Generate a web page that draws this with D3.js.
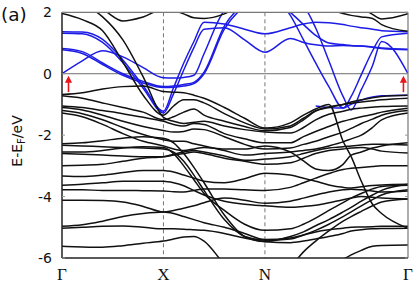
<!DOCTYPE html>
<html><head><meta charset="utf-8">
<script src="https://cdn.jsdelivr.net/npm/d3@7"></script>
<style>html,body{margin:0;padding:0;background:#fff;} svg{display:block;}</style>
</head><body>
<svg id="chart" width="415" height="283"></svg>
<script>
// k-path sample positions (Γ=0, X=1, N=2, Γ=3.41)
const kGrid = [0, 0.2, 0.4, 0.6, 0.8, 1.0, 1.1, 1.2, 1.3, 1.4, 1.6, 1.8, 2.0, 2.25, 2.38, 2.5, 2.63, 2.77, 2.85, 2.95, 3.06, 3.15, 3.41];
const kPoints = [0, 1, 2, 3.41];
const kLabels = ["Γ", "X", "N", "Γ"];
const yTicks = [2, 0, -2, -4, -6];
const arrowK = [0.064, 3.365];
const arrowE = [-0.6, -0.07];

// bands crossing E_F (blue)
const blueB1 = [1.37, 1.36, 1.12, 0.45, -0.39, -1.22, -0.45, 0.35, 1.05, 1.68, 1.62, 1.45, 1.3, 1.5, 1.62, 1.68, 1.66, 1.6, 1.55, 1.5, 1.45, 1.4, 1.37];
const blueB2 = [1.32, 1.30, 1.02, 0.36, -0.47, -1.28, -0.65, 0.12, 0.85, 1.45, 1.5, 1.1, 0.7, 1.15, 1.02, 0.94, 0.9, 0.92, 0.91, 0.9, 0.87, 0.84, 0.80];
const blueB3 = [0.82, 0.72, 0.35, 0.0, -0.25, -0.42, -0.4, -0.35, -0.28, 0.05, 1.55, 2.3, 2.6, 1.9, 1.1, 0.35, -0.42, -1.12, -0.74, -0.03, 0.74, 1.2, 1.32];
const blueB4 = [0.0, 0.42, 0.75, 0.55, 0.2, -0.13, -0.14, -0.12, -0.05, 0.65, 2.05, 2.4, 2.6, 2.4, 2.2, 1.49, 0.42, -0.74, -1.18, -0.52, 0.26, 1.05, 0.0];
const blueB5 = [0.78, 0.66, 0.3, -0.05, -0.3, -0.45, -0.44, -0.4, -0.32, 0.0, 1.45, 2.2, 2.5, 2.0, 1.6, 1.25, 1.0, 0.95, 0.92, 0.9, 0.86, 0.82, 0.78];
const blueB6 = [null, null, null, null, null, null, null, null, null, null, null, null, null, null, null, -1.05, -1.1, -1.12, -1.0, -0.86, -0.76, -0.72, -0.7];

// other bands (black)
const blackK1 = [1.96, 1.76, 1.4, 0.38, -0.7, -1.35, -1.05, -0.85, -0.85, -0.95, -1.3, -1.6, -1.8, -1.7, -1.45, -1.2, -1.08, -1.0, -0.96, -0.92, -0.88, -0.85, -0.8];
const blackK2 = [2.3, 2.2, 2.08, 1.72, 1.85, 2.1, 2.05, 1.95, 1.82, 1.8, 1.95, 2.3, 2.5, 2.6, 2.5, 2.3, 2.1, 1.96, 1.9, 1.85, 1.8, 1.6, 1.38];
const blackK3 = [1.99, 2.1, 2.4, 2.6, 2.7, 2.6, 2.55, 2.5, 2.45, 2.4, 2.4, 2.5, 2.6, 2.6, 2.55, 2.5, 2.45, 2.4, 2.3, 2.15, 1.93, 1.78, 1.95];
const blackK4 = [2.45, 2.28, 1.85, 1.1, -0.1, -1.42, -1.55, -1.62, -1.58, -1.55, -1.7, -1.82, -1.9, -1.93, -1.75, -1.5, -1.32, -1.22, -1.16, -1.12, -1.09, -1.07, -1.05];
const blackK5 = [-0.68, -0.62, -0.5, -0.42, -0.4, -0.58, -0.6, -0.62, -0.7, -0.8, -1.1, -1.45, -1.77, -1.6, -1.35, -1.15, -1.0, -2.2, -2.7, -3.5, -4.25, -4.55, -5.03];
const blackK6 = [-1.05, -1.1, -1.2, -1.3, -1.42, -1.55, -1.65, -1.7, -1.62, -1.65, -1.95, -2.12, -2.25, -2.25, -2.05, -1.88, -1.72, -1.55, -1.48, -1.4, -1.33, -1.25, -1.12];
const blackK7 = [-1.1, -1.18, -1.35, -1.55, -1.72, -1.85, -1.9, -1.88, -1.8, -1.82, -2.05, -2.3, -2.45, -2.42, -2.3, -2.2, -2.05, -1.9, -1.78, -1.62, -1.48, -1.35, -1.2];
const blackK8 = [-1.2, -1.3, -1.5, -1.75, -1.98, -2.15, -2.2, -2.2, -2.28, -2.35, -2.5, -2.65, -2.6, -2.55, -2.5, -2.45, -2.35, -2.22, -2.12, -2.0, -1.75, -1.5, -1.28];
const blackK9 = [-1.28, -1.4, -1.65, -1.95, -2.2, -2.35, -2.45, -2.5, -2.45, -2.4, -2.45, -2.45, -2.35, -2.55, -2.84, -3.1, -3.15, -2.95, -2.65, -2.55, -2.42, -2.35, -2.25];
const blackK10 = [-0.72, -0.8, -0.95, -1.1, -1.25, -1.5, -1.4, -1.25, -1.15, -1.35, -1.55, -1.72, -1.86, -1.75, -1.5, -1.22, -1.1, -1.0, -0.92, -0.85, -0.78, -0.74, -0.7];
const blackK11 = [-2.28, -2.25, -2.18, -2.1, -2.05, -2.1, -2.25, -2.6, -3.05, -3.55, -4.6, -5.3, -5.46, -5.3, -5.15, -4.95, -4.75, -4.5, -4.35, -4.15, -3.95, -3.8, -3.6];
const blackK12 = [-2.33, -2.35, -2.38, -2.4, -2.42, -2.45, -2.55, -2.85, -3.3, -3.8, -4.75, -5.3, -5.42, -5.38, -5.25, -5.1, -4.9, -4.65, -4.5, -4.3, -4.1, -3.95, -3.78];
const blackK13 = [-2.55, -2.55, -2.5, -2.42, -2.38, -2.4, -2.6, -3.0, -3.45, -3.9, -4.45, -4.9, -5.1, -5.05, -4.9, -4.7, -4.45, -4.2, -4.05, -3.9, -3.75, -3.67, -3.63];
const blackK14 = [-2.6, -2.62, -2.65, -2.68, -2.7, -2.7, -2.65, -2.6, -2.55, -2.6, -2.75, -2.85, -2.95, -2.9, -2.75, -2.6, -2.5, -2.45, -2.42, -2.4, -2.45, -2.52, -2.58];
const blackK15 = [-3.78, -3.78, -3.8, -3.8, -3.81, -3.82, -3.84, -3.85, -3.8, -3.75, -3.75, -3.78, -3.8, -3.7, -3.55, -3.4, -3.25, -3.12, -3.08, -3.05, -3.02, -3.0, -3.0];
const blackK16 = [-4.12, -4.12, -4.13, -4.18, -4.32, -4.5, -4.45, -4.38, -4.3, -4.2, -4.05, -4.12, -4.22, -4.15, -4.05, -3.95, -3.85, -3.78, -3.76, -3.78, -3.82, -3.85, -3.82];
const blackK17 = [-3.33, -3.35, -3.3, -3.22, -3.15, -3.15, -3.2, -3.3, -3.4, -3.5, -3.55, -3.42, -3.24, -3.3, -3.4, -3.5, -3.62, -3.7, -3.72, -3.68, -3.64, -3.62, -3.6];
const blackK18 = [-3.63, -3.6, -3.55, -3.5, -3.5, -3.5, -3.55, -3.65, -3.8, -3.95, -4.15, -4.25, -4.3, -4.35, -4.32, -4.28, -4.2, -4.1, -4.05, -4.0, -4.02, -4.05, -4.08];
const blackK19 = [-3.0, -2.98, -2.95, -2.85, -2.75, -2.7, -2.62, -2.55, -2.5, -2.55, -2.68, -2.82, -2.78, -2.7, -2.6, -2.5, -2.42, -2.38, -2.35, -2.32, -2.3, -2.3, -2.32];
const blackK20 = [-4.97, -4.92, -4.8, -4.65, -4.55, -4.5, -4.55, -4.65, -4.75, -4.85, -5.0, -5.2, -5.4, -5.35, -5.25, -5.15, -5.08, -5.03, -5.0, -4.99, -4.98, -4.97, -4.97];
const blackK21 = [-5.03, -5.0, -4.97, -4.96, -5.0, -5.05, -5.05, -5.06, -5.08, -5.1, -5.2, -5.35, -5.47, -5.5, -5.45, -5.38, -5.3, -5.2, -5.12, -5.08, -5.05, -5.04, -5.03];
const blackK22 = [-5.62, -5.64, -5.65, -5.6, -5.52, -5.45, -5.38, -5.32, -5.3, -5.45, -6.2, -6.8, -7.0, -6.3, -5.8, -5.45, -5.12, -4.8, -4.65, -4.48, -4.3, -4.18, -4.08];
const blackK23 = [-7, -7, -7, -7, -7, -7, -7, -7, -7, -7, -7, -7, -7, -7, -7, -6.9, -6.5, -6.05, -5.9, -5.75, -5.62, -5.59, -5.58];

const blueBands = [blueB1, blueB2, blueB3, blueB4, blueB5, blueB6];
const blackBands = [blackK1, blackK2, blackK3, blackK4, blackK5, blackK6, blackK7, blackK8, blackK9, blackK10,
  blackK11, blackK12, blackK13, blackK14, blackK15, blackK16, blackK17, blackK18, blackK19, blackK20, blackK21, blackK22, blackK23];

const svg = d3.select("#chart");
const x = d3.scaleLinear().domain([0, 3.41]).range([62, 408]);
const y = d3.scaleLinear().domain([-6, 2]).range([258, 12.3]);

svg.append("defs").append("clipPath").attr("id", "clip")
  .append("rect").attr("x", x(0)).attr("y", y(2)).attr("width", x(3.41) - x(0)).attr("height", y(-6) - y(2));

// zero line and symmetry-point dashed lines
svg.append("line").attr("x1", x(0)).attr("x2", x(3.41)).attr("y1", y(0)).attr("y2", y(0))
  .attr("stroke", "#6e6e6e").attr("stroke-width", 1);
svg.selectAll("line.sym").data(kPoints.slice(1, 3)).enter().append("line").attr("class", "sym")
  .attr("x1", d => x(d)).attr("x2", d => x(d)).attr("y1", y(2)).attr("y2", y(-6))
  .attr("stroke", "#777").attr("stroke-width", 1).attr("stroke-dasharray", "4,3");

const line = d3.line()
  .defined(d => d[1] !== null)
  .x(d => x(d[0])).y(d => y(d[1]))
  .curve(d3.curveMonotoneX);

const g = svg.append("g").attr("clip-path", "url(#clip)");
g.selectAll("path.blue").data(blueBands).enter().append("path").attr("class", "blue")
  .attr("d", b => line(b.map((v, i) => [kGrid[i], v])))
  .attr("fill", "none").attr("stroke", "#1c1ce6").attr("stroke-width", 1.5);
g.selectAll("path.black").data(blackBands).enter().append("path").attr("class", "black")
  .attr("d", b => line(b.map((v, i) => [kGrid[i], v])))
  .attr("fill", "none").attr("stroke", "#111").attr("stroke-width", 1.5);

// frame
svg.append("line").attr("x1", x(0)).attr("x2", x(3.41)).attr("y1", y(2)).attr("y2", y(2)).attr("stroke", "#777").attr("stroke-width", 1.2);
svg.append("line").attr("x1", x(3.41)).attr("x2", x(3.41)).attr("y1", y(2)).attr("y2", y(-6)).attr("stroke", "#777").attr("stroke-width", 1.2);
svg.append("line").attr("x1", x(0)).attr("x2", x(3.41)).attr("y1", y(-6)).attr("y2", y(-6)).attr("stroke", "#222").attr("stroke-width", 1.5);
svg.append("line").attr("x1", x(0)).attr("x2", x(0)).attr("y1", y(2)).attr("y2", y(-6)).attr("stroke", "#222").attr("stroke-width", 1.5);

// inner ticks
svg.selectAll("line.tl").data(yTicks).enter().append("line").attr("class", "tl")
  .attr("x1", x(0)).attr("x2", x(0) + 3).attr("y1", d => y(d)).attr("y2", d => y(d)).attr("stroke", "#999");
svg.selectAll("line.tr").data(yTicks).enter().append("line").attr("class", "tr")
  .attr("x1", x(3.41) - 3).attr("x2", x(3.41)).attr("y1", d => y(d)).attr("y2", d => y(d)).attr("stroke", "#999");

// tick labels
svg.selectAll("text.yt").data(yTicks).enter().append("text").attr("class", "yt")
  .attr("x", 52).attr("y", d => y(d)).attr("dy", "0.36em").attr("text-anchor", "end")
  .attr("font-family", "DejaVu Sans, sans-serif").attr("font-size", 14).attr("fill", "#111")
  .text(d => String(d));
svg.selectAll("text.xt").data(kPoints).enter().append("text").attr("class", "xt")
  .attr("x", d => x(d)).attr("y", 280).attr("text-anchor", "middle")
  .attr("font-family", "Liberation Serif, serif").attr("font-size", 17).attr("fill", "#111")
  .text((d, i) => kLabels[i]);

// axis title
const yl = svg.append("text").attr("transform", "translate(22,141) rotate(-90)")
  .attr("text-anchor", "middle").attr("font-family", "DejaVu Sans, sans-serif").attr("font-size", 14).attr("fill", "#111");
yl.append("tspan").text("E-E");
yl.append("tspan").attr("font-size", 10).attr("dy", 3).text("F");
yl.append("tspan").attr("dy", -3).text("/eV");

// panel label
svg.append("text").attr("x", 1).attr("y", 21).attr("font-family", "DejaVu Sans, sans-serif")
  .attr("font-size", 18.5).attr("fill", "#111").text("(a)");

// red arrows at Γ
arrowK.forEach(k => {
  const xa = x(k), y0 = y(arrowE[0]), y1 = y(arrowE[1]);
  svg.append("line").attr("x1", xa).attr("x2", xa).attr("y1", y0).attr("y2", y1 + 5)
    .attr("stroke", "#e8161a").attr("stroke-width", 1.6);
  svg.append("path").attr("d", `M${xa},${y1} L${xa - 3.6},${y1 + 7} L${xa + 3.6},${y1 + 7} Z`).attr("fill", "#e8161a");
});
</script>
</body></html>
